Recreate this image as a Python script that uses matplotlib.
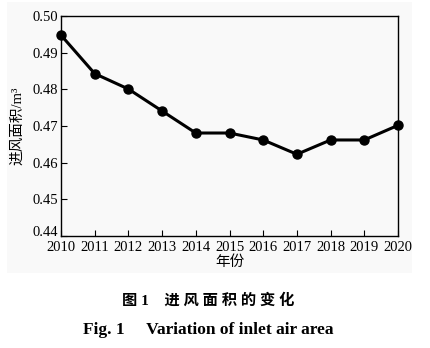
import matplotlib
matplotlib.use("Agg")
from matplotlib import pyplot as plt
from matplotlib.patches import Rectangle

years = [2010, 2011, 2012, 2013, 2014, 2015, 2016, 2017, 2018, 2019, 2020]
inlet_area = [0.4948, 0.4843, 0.4801, 0.4741, 0.4681, 0.4681, 0.4662, 0.4623, 0.4662, 0.4662, 0.4702]
y_ticks = [0.44, 0.45, 0.46, 0.47, 0.48, 0.49, 0.50]

serif_cjk = ['Liberation Serif', 'Noto Sans CJK SC']
plt.rcParams['font.family'] = serif_cjk

fig = plt.figure(figsize=(4.31, 3.48), dpi=100)
# light gray backdrop of the scanned chart area
fig.patches.append(Rectangle((0.016, 0.215), 0.94, 0.78, transform=fig.transFigure,
                             facecolor='#f9f9f9', edgecolor='none', zorder=-1))

ax = fig.add_axes([0.1415, 0.3218, 0.782, 0.632])
ax.plot(years, inlet_area, color='black', lw=2.2, marker='o', markersize=6.5, clip_on=False)

ax.set_xlim(2010, 2020)
ax.set_ylim(0.44, 0.50)
ax.set_xticks(years)
ax.set_yticks(y_ticks)
ax.set_yticklabels([f"{v:.2f}" for v in y_ticks])
ax.tick_params(direction='in', length=4, width=0.8, labelsize=10.5, pad=2)
ax.tick_params(axis='x', pad=3.5)
# bottom y label sits a little higher, as in the original
ax.get_yticklabels()[0].set_verticalalignment('baseline')
for s in ax.spines.values():
    s.set_linewidth(1.0)
ax.set_facecolor('none')

ax.set_xlabel('年份', fontsize=10.5, labelpad=1)
ax.set_ylabel('进风面积/m³', fontsize=10.5, labelpad=6)

fig.text(0.483, 0.137, '图 1    进 风 面 积 的 变 化', ha='center', va='center', fontsize=11,
         fontweight='bold', family=serif_cjk)
fig.text(0.483, 0.052, 'Fig. 1     Variation of inlet air area', ha='center', va='center',
         fontsize=12.5, fontweight='bold', family='Liberation Serif')

fig.savefig('out.png', dpi=100, facecolor='white')
